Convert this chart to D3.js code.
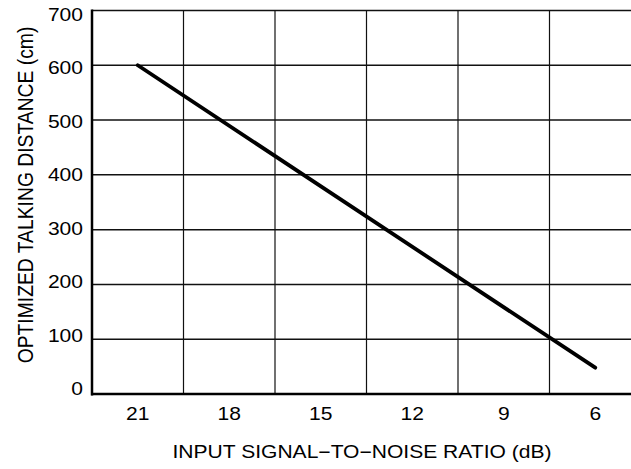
<!DOCTYPE html>
<html><head><meta charset="utf-8">
<script src="https://cdn.jsdelivr.net/npm/d3@7"></script>
<style>body{margin:0;background:#fff}svg{display:block}text{font-family:"Liberation Sans",Arial,Helvetica,sans-serif;fill:#000}</style>
</head><body>
<svg id="c" width="631" height="469"></svg>
<script>
const snrCategories = [21, 18, 15, 12, 9, 6];
const yTicks = [0, 100, 200, 300, 400, 500, 600, 700];
const lineSnr = [21, 6];
const lineDistance = [600, 48];
const xTitle = "INPUT SIGNAL\u2212TO\u2212NOISE RATIO (dB)";
const yTitle = "OPTIMIZED TALKING DISTANCE (cm)";

const svg = d3.select("#c");
const L = 92, R = 641, T = 10.5, B = 394;
const SX = 1.17; // horizontal stretch of lettering
const xb = d3.scaleBand().domain(snrCategories).range([L, R]).padding(0);
const xl = d3.scaleLinear().domain([21, 6]).range([xb(21) + xb.bandwidth()/2, xb(6) + xb.bandwidth()/2]);
const y = d3.scaleLinear().domain([0, 700]).range([B, T]);
const yLab = d3.scaleLinear().domain([0, 700]).range([389, 14.5]);

// horizontal grid
svg.append("g").selectAll("line").data(yTicks.filter(d => d > 0)).join("line")
  .attr("x1", L).attr("x2", 631).attr("y1", d => y(d)).attr("y2", d => y(d))
  .attr("stroke", "#111").attr("stroke-width", 1.5);
// vertical grid at band edges
svg.append("g").selectAll("line").data(snrCategories.slice(1)).join("line")
  .attr("x1", d => xb(d)).attr("x2", d => xb(d)).attr("y1", T).attr("y2", B)
  .attr("stroke", "#111").attr("stroke-width", 1.2);

// axes lines
svg.append("line").attr("x1", L).attr("x2", L).attr("y1", T - 1).attr("y2", B + 1.5)
  .attr("stroke", "#000").attr("stroke-width", 2.5);
svg.append("line").attr("x1", L - 1).attr("x2", 631).attr("y1", B).attr("y2", B)
  .attr("stroke", "#000").attr("stroke-width", 2.5);

// y tick labels
svg.append("g").selectAll("text").data(yTicks).join("text")
  .attr("transform", d => `translate(83,${yLab(d)}) scale(${SX},1)`)
  .attr("dy", "0.36em").attr("text-anchor", "end").style("font-size", "18px").text(d => d);
// x tick labels
svg.append("g").selectAll("text").data(snrCategories).join("text")
  .attr("transform", d => `translate(${xb(d) + xb.bandwidth()/2},420) scale(${SX},1)`)
  .attr("text-anchor", "middle").style("font-size", "18px").text(d => d);

// line
const pts = lineSnr.map((s, i) => [xl(s), y(lineDistance[i])]);
svg.append("path").attr("d", d3.line()(pts)).attr("fill", "none")
  .attr("stroke", "#000").attr("stroke-width", 3.8).attr("stroke-linecap", "round");

// titles
svg.append("text").attr("transform", `translate(362,458) scale(${SX},1)`).attr("text-anchor", "middle")
  .style("font-size", "18px").text(xTitle);
svg.append("text").attr("transform", `translate(33,195) scale(${SX},1) rotate(-90)`).attr("text-anchor", "middle")
  .style("font-size", "19.3px").text(yTitle);
</script>
</body></html>
